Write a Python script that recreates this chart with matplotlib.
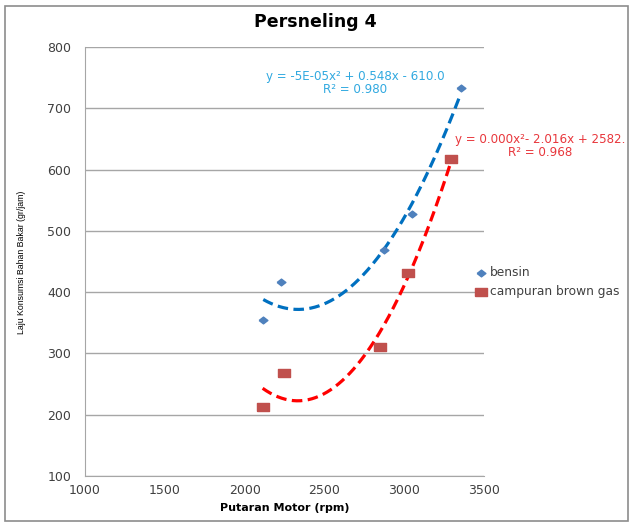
import matplotlib
matplotlib.use("Agg")
import matplotlib.pyplot as plt
from matplotlib.patches import Rectangle
import numpy as np

# data
rpm_bensin = [2117, 2228, 2876, 3047, 3354]
bensin = [355, 417, 469, 528, 733]
rpm_campuran = [2113, 2249, 2848, 3022, 3293]
campuran = [213, 268, 311, 431, 617]

eq_bensin = "y = -5E-05x\u00b2 + 0.548x - 610.0\nR\u00b2 = 0.980"
eq_campuran = "y = 0.000x\u00b2- 2.016x + 2582.\nR\u00b2 = 0.968"

blue_mark = "#4F81BD"
red_mark = "#C0504D"
blue_line = "#0070C0"
red_line = "#FF0000"
grid_col = "#A6A6A6"
text_col = "#404040"

# wide markers (the picture is stretched sideways)
rect_marker = [(-1.6, -1), (1.6, -1), (1.6, 1), (-1.6, 1), (-1.6, -1)]
diamond_marker = [(-1.3, 0), (0, -1), (1.3, 0), (0, 1), (-1.3, 0)]

fig = plt.figure(figsize=(6.31, 5.23), dpi=100)
fig.patches.append(Rectangle((5 / 631, 2 / 523), 623 / 631, 515 / 523,
                             transform=fig.transFigure, fill=False,
                             edgecolor="#8C8C8C", linewidth=1.2))

ax = fig.add_axes([85 / 631, 1 - 476 / 523, 399 / 631, 429 / 523])

# trend lines (2nd order polynomial fit, like the Excel trendline)
for xs, ys, col in [(rpm_bensin, bensin, blue_line), (rpm_campuran, campuran, red_line)]:
    coef = np.polyfit(xs, ys, 2)
    xx = np.linspace(min(xs), max(xs), 200)
    ax.plot(xx, np.polyval(coef, xx), color=col, lw=2.3,
            linestyle=(0, (3.3, 1.7)), zorder=3)

ax.scatter(rpm_bensin, bensin, marker=diamond_marker, s=40, color=blue_mark,
           label="bensin", zorder=4)
ax.scatter(rpm_campuran, campuran, marker=rect_marker, s=70, color=red_mark,
           label="campuran brown gas", zorder=4)

ax.set_xlim(1000, 3500)
ax.set_ylim(100, 800)
ax.set_xticks(range(1000, 3501, 500))
ax.set_yticks(range(100, 801, 100))
ax.grid(axis="y", color=grid_col, lw=1)
ax.set_axisbelow(True)
for s in ["top", "right"]:
    ax.spines[s].set_visible(False)
for s in ["left", "bottom"]:
    ax.spines[s].set_color(grid_col)
ax.tick_params(length=0, labelsize=9, colors=text_col, pad=10)
ax.tick_params(axis="x", pad=6)

fig.text(315 / 631, 1 - 22 / 523, "Persneling 4", ha="center", va="center",
         fontsize=12.5, fontweight="bold", color="black")
fig.text(285 / 631, 1 - 508 / 523, "Putaran Motor (rpm)", ha="center", va="center",
         fontsize=8, fontweight="bold", color="black")
fig.text(22 / 631, 1 - 262 / 523, "Laju Konsumsi Bahan Bakar (gr/jam)",
         rotation=90, ha="center", va="center", fontsize=6.3,
         family=["Liberation Sans", "DejaVu Sans"], color="black")

fig.text(355 / 631, 1 - 83 / 523, eq_bensin, ha="center", va="center",
         fontsize=8.6, color="#31A9E0", linespacing=0.95, multialignment="center")
fig.text(540 / 631, 1 - 146 / 523, eq_campuran, ha="center", va="center",
         fontsize=8.6, color="#E8373C", linespacing=0.95, multialignment="center")

fig.legend(loc="center left", bbox_to_anchor=(470 / 631, 1 - 282 / 523),
           frameon=False, fontsize=8.8, handletextpad=0.2, labelspacing=0.45,
           handlelength=1.0, borderaxespad=0, labelcolor=text_col)

fig.savefig("out.png", dpi=100)
